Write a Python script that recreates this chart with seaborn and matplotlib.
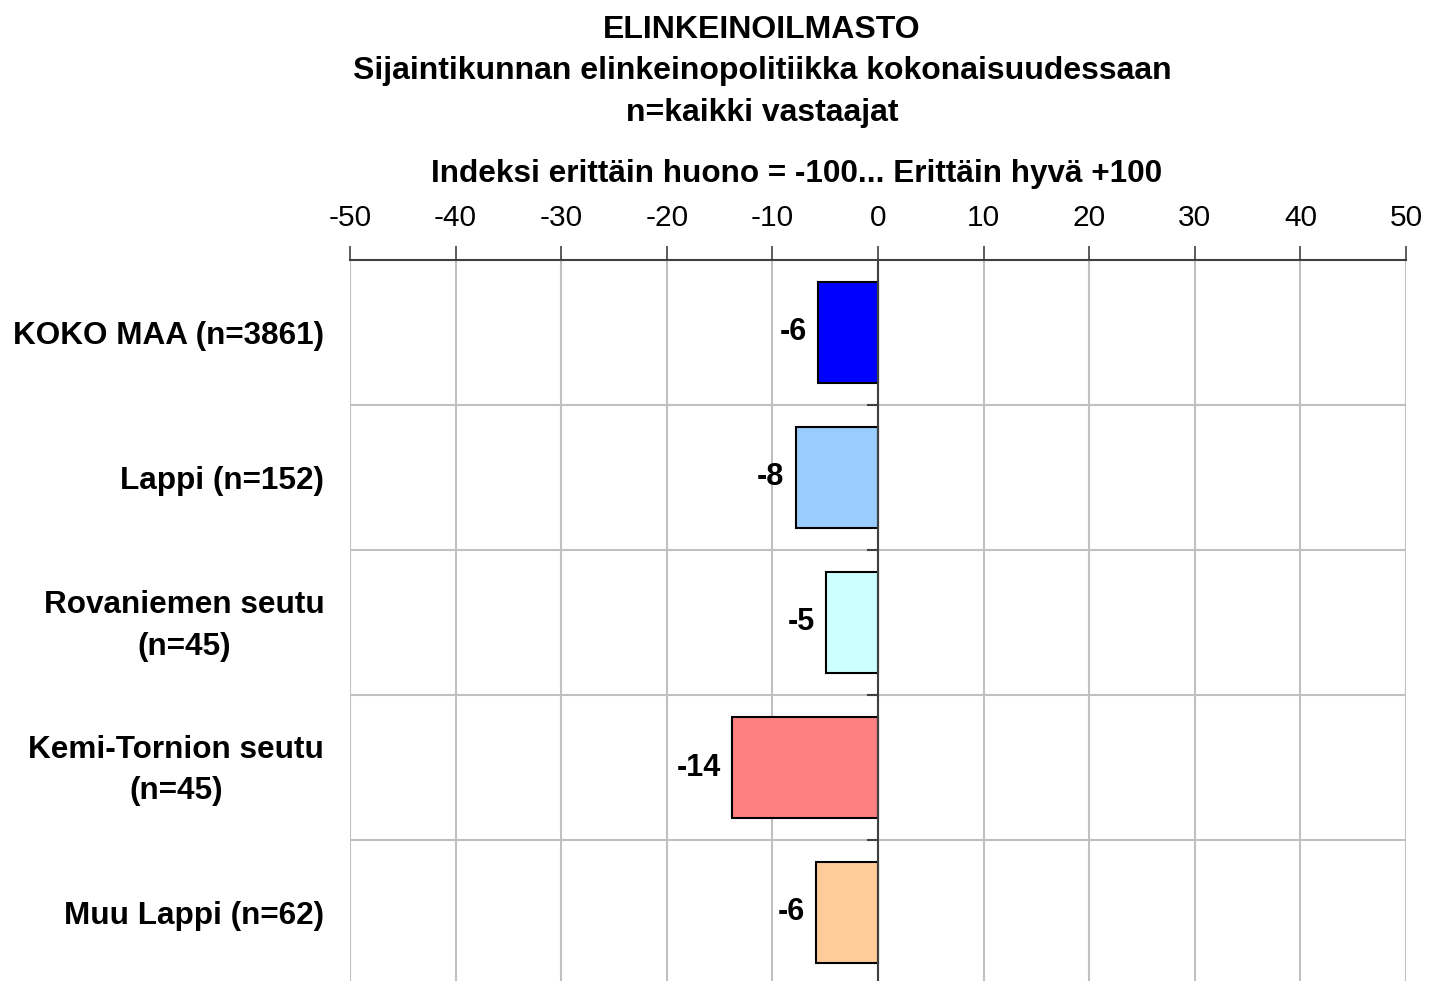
import matplotlib
matplotlib.use("Agg")
import matplotlib.pyplot as plt
import matplotlib.transforms as mtransforms
import seaborn as sns
import pandas as pd
from matplotlib.ticker import FixedLocator

# ------------------------- Data -------------------------
categories = [
    "KOKO MAA (n=3861)",
    "Lappi (n=152)",
    "Rovaniemen seutu\n(n=45)",
    "Kemi-Tornion seutu\n(n=45)",
    "Muu Lappi (n=62)",
]
index_values = [-5.7, -7.8, -4.9, -13.8, -5.9]
bar_colors = ["#0000FF", "#99CCFF", "#CCFFFF", "#FF8080", "#FFCC99"]

title_lines = "ELINKEINOILMASTO\nSijaintikunnan elinkeinopolitiikka kokonaisuudessaan\nn=kaikki vastaajat"
axis_title = "Indeksi erittäin huono = -100... Erittäin hyvä +100"
x_ticks = [-50, -40, -30, -20, -10, 0, 10, 20, 30, 40, 50]

df = pd.DataFrame({"group": categories, "value": index_values})

# ------------------------- Style -------------------------
sns.set_style("white")
plt.rcParams["font.family"] = ["Liberation Sans", "DejaVu Sans"]
plt.rcParams["axes.unicode_minus"] = False
plt.rcParams["text.color"] = "black"
plt.rcParams["xtick.labelcolor"] = "black"
plt.rcParams["ytick.labelcolor"] = "black"

W, H = 1429, 981
fig = plt.figure(figsize=(W / 100, H / 100), dpi=100)
ax = fig.add_axes([350 / W, (H - 985) / H, 1056 / W, 725 / H])

sns.barplot(
    data=df, x="value", y="group", hue="group", palette=bar_colors,
    orient="h", width=0.7, edgecolor="black", linewidth=1.5,
    legend=False, ax=ax, saturation=1,
)

ax.set_xlim(-50, 50)
ax.set_ylim(4.5, -0.5)
ax.set_xlabel("")
ax.set_ylabel("")

# grid
grid_col = "#C0C0C0"
ax.set_xticks(x_ticks)
ax.yaxis.set_minor_locator(FixedLocator([0.5, 1.5, 2.5, 3.5]))
ax.grid(axis="x", which="major", color=grid_col, lw=1.5)
ax.grid(axis="y", which="minor", color=grid_col, lw=1.5)
ax.set_axisbelow(True)

# x axis on top
ax.xaxis.tick_top()
ax.tick_params(axis="x", which="major", top=True, bottom=False, direction="out",
               length=10, width=1.2, color="#404040", labelsize=21.5, pad=10)

# zero line using right spine
for side in ["left", "bottom"]:
    ax.spines[side].set_visible(False)
ax.spines["top"].set_color("#404040")
ax.spines["top"].set_linewidth(1.5)
ax.spines["right"].set_position(("data", 0))
ax.spines["right"].set_color("#404040")
ax.spines["right"].set_linewidth(1.5)
ax.spines["right"].set_zorder(5)

ax.tick_params(axis="y", which="major", left=False, right=False, labelleft=True,
               labelright=False, labelsize=22.7, pad=15)
ax.tick_params(axis="y", which="minor", left=False, right=True, direction="in",
               length=8, width=1.5, color="#404040")
lift = mtransforms.ScaledTranslation(0, 6 / 100, fig.dpi_scale_trans)
for lbl in ax.get_yticklabels():
    lbl.set_fontweight("bold")
    lbl.set_multialignment("center")
    lbl.set_linespacing(1.5)
    if "\n" in lbl.get_text():
        lbl.set_transform(lbl.get_transform() + lift)

# value labels
for container in ax.containers:
    ax.bar_label(container, fmt="%.0f", padding=8, fontsize=22, fontweight="bold")

# titles
fig.text(762 / W, 1 - 71 / H, title_lines, ha="center", va="center",
         fontsize=23, fontweight="bold", linespacing=1.5)
fig.text(797 / W, 1 - 174 / H, axis_title, ha="center", va="center",
         fontsize=22.7, fontweight="bold")

fig.savefig("out.png", dpi=100)
